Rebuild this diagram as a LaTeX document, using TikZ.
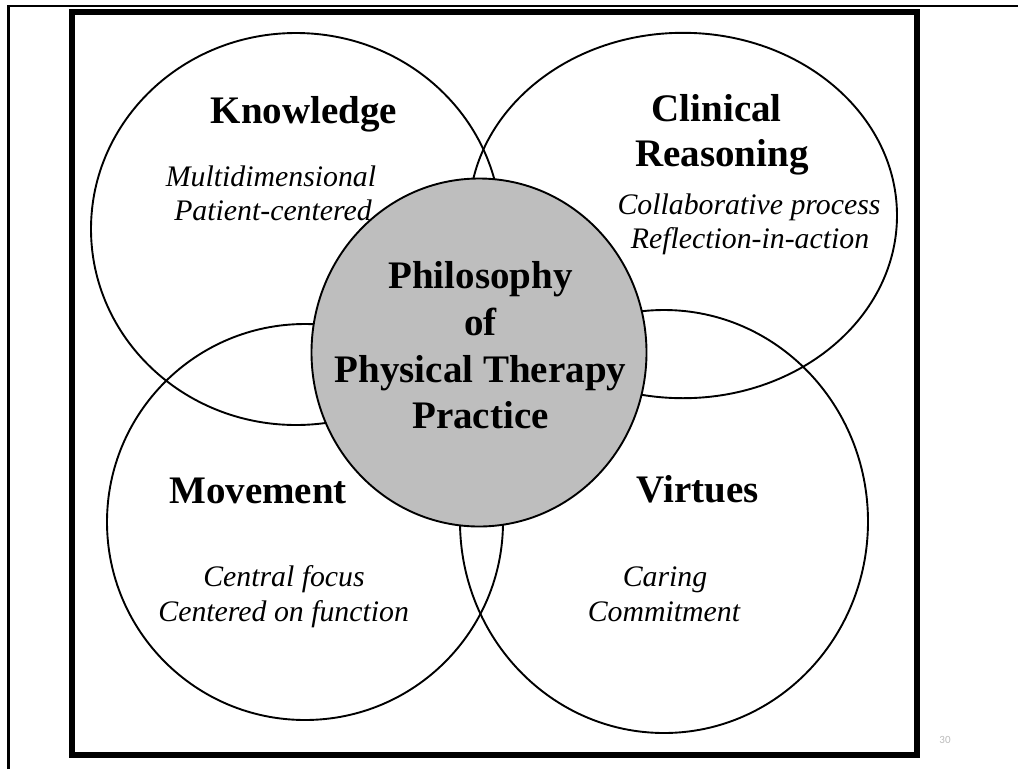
\documentclass[tikz,border=0pt]{standalone}
\usepackage{fontspec}
\setmainfont{Liberation Serif}
\newfontfamily\pagefont{Carlito}
\definecolor{centergray}{HTML}{BEBEBE}
\definecolor{pagegray}{HTML}{BBBBBB}
\tikzset{
  ring/.style={draw=black, line width=1.9pt},
  hub/.style={draw=black, line width=1.9pt, fill=centergray},
  title/.style={anchor=base, inner sep=0pt, font=\fontsize{39}{45}\selectfont\bfseries},
  sub/.style={anchor=base, inner sep=0pt, font=\fontsize{29.8}{33}\selectfont\itshape},
}
\begin{document}
\begin{tikzpicture}[x=1pt, y=-1pt]
\useasboundingbox (0,0) rectangle (1018,769);
% slide border
\draw[line width=2.5pt] (8.5,769) -- (8.5,6.2) -- (1018,6.2);
% thick frame
\draw[line width=6pt] (71.5,12.3) rectangle (917,755);
% four circles
\draw[ring] (296,229) ellipse [x radius=205, y radius=196];
\draw[ring] (683,215.5) ellipse [x radius=214, y radius=182.7];
\draw[ring] (305,522) ellipse [x radius=198, y radius=198];
\draw[ring] (664,521.5) ellipse [x radius=204, y radius=211.5];
% central circle
\draw[hub] (479,352.5) ellipse [x radius=167.5, y radius=174];
% texts
\node[title] (kt) at (304,123) {Knowledge};
\node[sub] (k1) at (271,186.7) {Multidimensional};
\node[sub] (k2) at (273,220) {Patient-centered};
\node[title] (ct1) at (716.7,121.7) {Clinical};
\node[title] (ct2) at (722,166.7) {Reasoning};
\node[sub] (c1) at (749,214) {Collaborative process};
\node[sub] (c2) at (750,248.3) {Reflection-in-action};
\node[title] (mt) at (258,503.3) {Movement};
\node[sub] (m1) at (284,586.7) {Central focus};
\node[sub] (m2) at (283.7,621.7) {Centered on function};
\node[title] (vt) at (698,502.7) {Virtues};
\node[sub] (v1) at (665,586.7) {Caring};
\node[sub] (v2) at (664,621.7) {Commitment};
\node[title] (p1) at (480.5,288) {Philosophy};
\node[title] (p2) at (480.5,335) {of};
\node[title] (p3) at (480.5,382.7) {Physical Therapy};
\node[title] (p4) at (480.5,428) {Practice};
% page number
\node[anchor=base, inner sep=0pt, text=pagegray, font=\pagefont\fontsize{11}{13}\selectfont] (pg) at (945,743) {30};
\end{tikzpicture}
\end{document}
